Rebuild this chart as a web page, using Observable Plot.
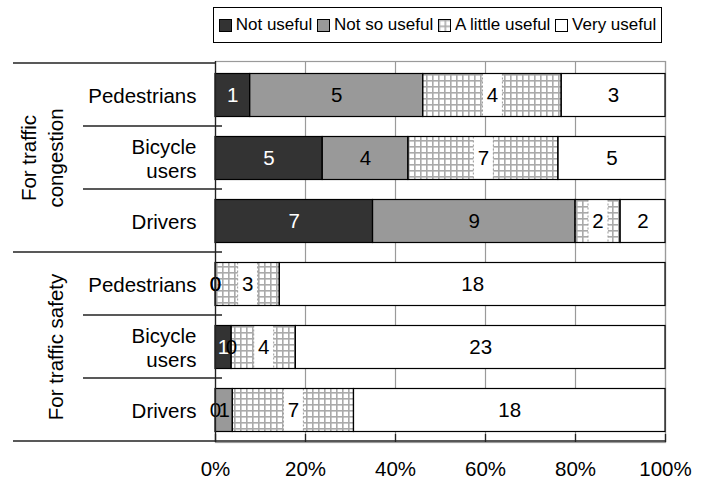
<!DOCTYPE html>
<html><head><meta charset="utf-8">
<script src="https://cdn.jsdelivr.net/npm/d3@7"></script>
<script src="https://cdn.jsdelivr.net/npm/@observablehq/plot@0.6"></script>
<style>
body{margin:0;background:#fff;font-family:"Liberation Sans",Arial,sans-serif;}
#legend{position:relative;width:701px;height:50px;}
#legend .box{position:absolute;left:213px;top:7px;width:447px;height:34px;border:1.5px solid #000;display:flex;align-items:center;justify-content:space-evenly;font-size:17px;color:#000;}
.item{display:flex;align-items:center;white-space:nowrap;}
.item svg{margin-right:4px;display:block}
#chart svg{display:block}
</style></head><body>
<div id="legend"><div class="box"></div></div>
<div id="chart"></div>
<script>
// ---- data ----
const groups = ["For traffic\ncongestion", "For traffic safety"];
const users = ["Pedestrians", "Bicycle\nusers", "Drivers"];
const levels = ["Not useful", "Not so useful", "A little useful", "Very useful"];
const notUseful     = [1, 5, 7, 0, 1, 0];
const notSoUseful   = [5, 4, 9, 0, 0, 1];
const aLittleUseful = [4, 7, 2, 3, 4, 7];
const veryUseful    = [3, 5, 2, 18, 23, 18];
const xTicks = [0, 0.2, 0.4, 0.6, 0.8, 1];

const fills = ["#333333", "#999999", "url(#gridpat)", "#ffffff"];
const series = [notUseful, notSoUseful, aLittleUseful, veryUseful];

const rowsMeta = [];
groups.forEach((g, gi) => users.forEach((u, ui) => rowsMeta.push({key: gi + "|" + u, group: gi, user: u, i: gi * 3 + ui})));
const groupMeta = groups.map((g, gi) => ({label: g, key: rowsMeta[gi * 3 + 1].key}));

const segs = [];
rowsMeta.forEach(r => {
  const vals = series.map(s => s[r.i]);
  const total = d3.sum(vals);
  let acc = 0;
  vals.forEach((v, li) => {
    const x1 = acc / total; acc += v; const x2 = acc / total;
    segs.push({key: r.key, level: levels[li], li, value: v, x1, x2, mid: (x1 + x2) / 2, fill: fills[li]});
  });
});
const boxSegs = segs.filter(d => d.li === 2 && d.value > 0);

// ---- layout ----
const H = 436, mT = 11, mB = 44, mL = 215, mR = 36;
const plotH = H - mT - mB;
const inset = {insetTop: 10.5, insetBottom: 9.5};

const chart = Plot.plot({
  width: 701, height: H, marginTop: mT, marginBottom: mB, marginLeft: mL, marginRight: mR,
  style: {fontFamily: "'Liberation Sans', Arial, sans-serif", fontSize: "20.5px", background: "white", overflow: "visible", color: "black"},
  x: {domain: [0, 1], axis: null},
  y: {domain: rowsMeta.map(d => d.key), padding: 0, axis: null},
  color: {type: "identity"},
  marks: [
    Plot.ruleX(xTicks.slice(1), {stroke: "#9a9a9a", strokeWidth: 1.2}),
    Plot.frame({stroke: "#9a9a9a", strokeWidth: 1.2}),
    Plot.barX(segs, {x1: "x1", x2: "x2", y: "key", fill: "fill", ...inset}),
    Plot.tickX(boxSegs, {x: "mid", y: "key", stroke: "white", strokeWidth: 20, ...inset}),
    Plot.tickX(boxSegs, {x: "mid", y: "key", dx: -10, stroke: "#999", strokeWidth: 1, strokeDasharray: "2,2", ...inset}),
    Plot.tickX(boxSegs, {x: "mid", y: "key", dx: 10, stroke: "#999", strokeWidth: 1, strokeDasharray: "2,2", ...inset}),
    Plot.barX(segs.filter(d => d.value > 0), {x1: "x1", x2: "x2", y: "key", fill: "none", stroke: "black", strokeWidth: 1.2, ...inset}),
    Plot.text(segs, {x: "mid", y: "key", text: d => String(d.value), fill: d => (d.li === 0 && d.value > 0) ? "white" : "black"}),
    Plot.ruleX([0], {stroke: "#222", strokeWidth: 1.3}),
    Plot.ruleX(xTicks, {stroke: "#222", strokeWidth: 1.3, insetTop: plotH - 8}),
    Plot.axisX({ticks: xTicks, tickSize: 0, tickPadding: 19, tickFormat: d3.format(".0%")}),
    Plot.text(rowsMeta, {y: "key", text: "user", frameAnchor: "left", dx: -19, textAnchor: "end", lineHeight: 1.2}),
    Plot.text(groupMeta, {y: "key", text: "label", frameAnchor: "left", dx: -153, textAnchor: "middle", rotate: -90, lineAnchor: "bottom", lineHeight: 1.3})
  ]
});

// pattern definition
const svg = d3.select(chart);
const defs = svg.insert("defs", ":first-child");
const pat = defs.append("pattern").attr("id", "gridpat").attr("patternUnits", "userSpaceOnUse").attr("width", 6).attr("height", 6);
pat.append("rect").attr("width", 6).attr("height", 6).attr("fill", "#fff");
pat.append("rect").attr("width", 6).attr("height", 1.6).attr("fill", "#aaaaaa");
pat.append("rect").attr("width", 1.6).attr("height", 6).attr("fill", "#aaaaaa");

// category dividers from the y scale
const ys = chart.scale("y"), xs = chart.scale("x");
const keys = rowsMeta.map(d => d.key);
const step = ys.apply(keys[1]) - ys.apply(keys[0]);
const g = svg.append("g").attr("stroke", "#222").attr("stroke-width", 1.3);
keys.forEach((k, i) => {
  const y = ys.apply(k);
  if (i === 0) g.append("line").attr("x1", 13).attr("x2", xs.apply(0)).attr("y1", y).attr("y2", y);
  else g.append("line").attr("x1", i === 3 ? 13 : 83).attr("x2", xs.apply(0) + 7).attr("y1", y).attr("y2", y);
});
const yb = ys.apply(keys[keys.length - 1]) + step;
g.append("line").attr("x1", 13).attr("x2", xs.apply(1)).attr("y1", yb).attr("y2", yb);

document.getElementById("chart").appendChild(chart);

// legend
const box = d3.select("#legend .box");
levels.forEach((lv, li) => {
  const it = box.append("div").attr("class", "item");
  const s = it.append("svg").attr("width", 13).attr("height", 13);
  if (li === 2) {
    const p = s.append("defs").append("pattern").attr("id", "gridpatL").attr("patternUnits", "userSpaceOnUse").attr("width", 6).attr("height", 6).attr("x", 0.5).attr("y", 0.5);
    p.append("rect").attr("width", 6).attr("height", 6).attr("fill", "#fff");
    p.append("rect").attr("width", 6).attr("height", 1.6).attr("fill", "#aaaaaa");
    p.append("rect").attr("width", 1.6).attr("height", 6).attr("fill", "#aaaaaa");
  }
  s.append("rect").attr("x", 0.5).attr("y", 0.5).attr("width", 12).attr("height", 12)
    .attr("fill", li === 2 ? "url(#gridpatL)" : fills[li]).attr("stroke", "#000");
  it.append("span").text(lv);
});
</script>
</body></html>
